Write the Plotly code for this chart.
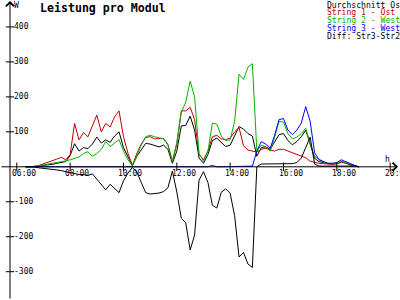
import plotly.graph_objects as go

# ---------------- data ----------------
times = ["06:20", "06:30", "06:40", "06:50", "07:00", "07:10", "07:20", "07:30", "07:40", "07:50",
         "08:00", "08:10", "08:20", "08:30", "08:40", "08:50", "09:00", "09:10", "09:20", "09:30",
         "09:40", "09:50", "10:00", "10:10", "10:20", "10:30", "10:40", "10:50", "11:00", "11:10",
         "11:20", "11:30", "11:40", "11:50", "12:00", "12:10", "12:20", "12:30", "12:40", "12:50",
         "13:00", "13:10", "13:20", "13:30", "13:40", "13:50", "14:00", "14:10", "14:20", "14:30",
         "14:40", "14:50", "15:00", "15:10", "15:20", "15:30", "15:40", "15:50", "16:00", "16:10",
         "16:20", "16:30", "16:40", "16:50", "17:00", "17:10", "17:20", "17:30", "17:40", "17:50",
         "18:00", "18:10", "18:20", "18:30", "18:40", "18:50"]

durchschnitt = [0, 0, 1, 2, 4, 5, 7, 10, 13, 15,
                32, 66, 45, 55, 52, 65, 85, 68, 77, 70,
                88, 100, 55, 28, 3, 30, 50, 67, 65, 60,
                57, 62, 50, 10, 45, 117, 118, 145, 105, 25,
                10, 35, 75, 82, 70, 58, 62, 90, 115, 108,
                95, 88, 30, 55, 57, 50, 70, 92, 95, 75,
                63, 72, 86, 105, 65, 24, 15, 11, 9, 8,
                9, 15, 11, 5, 2, 0]

string1 = [0, 0, 1, 4, 8, 12, 18, 22, 27, 20,
           35, 124, 77, 98, 86, 115, 148, 100, 124, 114,
           143, 160, 86, 39, 4, 38, 65, 84, 86, 80,
           80, 81, 64, 15, 65, 160, 160, 170, 135, 35,
           20, 45, 86, 90, 80, 78, 82, 100, 112, 60,
           48, 44, 42, 50, 53, 48, 45, 50, 50, 45,
           40, 36, 30, 26, 16, 12, 10, 9, 8, 7,
           9, 12, 11, 5, 2, 0]

string2 = [0, 0, 1, 3, 5, 7, 9, 11, 14, 17,
           20, 24, 28, 38, 43, 30, 38, 50, 72, 58,
           68, 78, 45, 20, 3, 35, 62, 86, 90, 86,
           82, 80, 62, 15, 70, 155, 185, 245, 200, 38,
           16, 45, 125, 122, 88, 75, 77, 130, 265, 250,
           285, 295, 45, 62, 57, 45, 85, 130, 128, 95,
           80, 85, 95, 110, 65, 30, 22, 14, 10, 9,
           10, 16, 12, 6, 2, 0]

string3 = [0, 0, 0, 0, 0, 0, 0, 0, 0, 0,
           0, 0, 0, 0, 0, 0, 0, 0, 0, 0,
           0, 0, 0, 0, 0, 0, 0, 0, 0, 0,
           0, 0, 0, 0, 0, 0, 0, 0, 0, 0,
           0, 0, 4, 0, 0, 0, 0, 0, 0, 0,
           0, 2, 45, 72, 65, 53, 90, 135, 138, 105,
           92, 105, 125, 172, 130, 40, 20, 14, 10, 10,
           12, 20, 14, 9, 4, 0]

diff32 = [0, 0, -1, -3, -4, -5, -7, -9, -11, -14,
          -17, -20, -22, -22, -25, -20, -35, -50, -66, -50,
          -62, -74, -40, -18, -2, -15, -45, -74, -78, -77,
          -75, -71, -60, -12, -72, -147, -160, -238, -195, -38,
          -14, -45, -110, -118, -73, -63, -76, -140, -258, -245,
          -278, -288, 0, 8, 8, 8, 7, 8, 8, 9,
          9, 12, 25, 55, 85, 8, 2, 2, 2, 2,
          2, 4, 2, 3, 2, 0]

legend_names = ["Durchschnitt Ost", "String 1 - Ost", "String 2 - West",
                "String 3 - West", "Diff: Str3-Str2"]
colors = ["#000000", "#c00000", "#00b400", "#0000ff", "#000000"]

y_ticks = [400, 300, 200, 100, -100, -200, -300]
y_tick_labels = ["400", "300", "200", "100", "-100", "-200", "-300"]
x_ticks = ["06:00", "08:00", "10:00", "12:00", "14:00", "16:00", "18:00", "20:00"]
x_tick_labels = ["06:00", "08:00", "10:00", "12:00", "14:00", "16:00", "18:00", "20:00"]

title = "Leistung pro Modul"
y_unit = "W"
x_unit = "h"

# ---------------- layout constants ----------------
W, H = 400, 300
PX_PER_H = 26.67
PX_PER_W = 0.3496
X0 = 6 - 16.8 / PX_PER_H
X1 = X0 + W / PX_PER_H
Y1 = 166.8 / PX_PER_W
Y0 = Y1 - H / PX_PER_W
AXIS_X = X0 + 10 / PX_PER_H
FONT = "DejaVu Sans Mono"


def hours(s):
    h, m = s.split(":")
    return int(h) + int(m) / 60.0


x = [hours(t) for t in times]
xt = [hours(t) for t in x_ticks]

fig = go.Figure()

series = [durchschnitt, string1, string2, string3, diff32]
for name, ys, col in zip(legend_names, series, colors):
    fig.add_trace(go.Scatter(x=x, y=ys, mode="lines", name=name,
                             line=dict(color=col, width=1), showlegend=False,
                             hoverinfo="skip"))

# tick marks
fig.add_trace(go.Scatter(x=[AXIS_X] * len(y_ticks), y=y_ticks, mode="markers",
                         marker=dict(symbol="line-ew", size=6, color="black",
                                     line=dict(width=1, color="black")),
                         showlegend=False, hoverinfo="skip"))
fig.add_trace(go.Scatter(x=xt, y=[0] * len(xt), mode="markers",
                         marker=dict(symbol="line-ns", size=6, color="black",
                                     line=dict(width=1, color="black")),
                         showlegend=False, hoverinfo="skip"))

ann = []
# y axis with arrow
ann.append(dict(x=AXIS_X, y=Y1 - 1 / PX_PER_W, xref="x", yref="y", text="", showarrow=True,
                ax=0, ay=H, axref="pixel", ayref="pixel", arrowhead=4, arrowsize=1.6,
                arrowwidth=1, arrowcolor="black", standoff=0))
# x axis with arrow
ann.append(dict(x=X0 + 398 / PX_PER_H, y=0, xref="x", yref="y", text="", showarrow=True,
                ax=-W, ay=0, axref="pixel", ayref="pixel", arrowhead=4, arrowsize=1.6,
                arrowwidth=1, arrowcolor="black", standoff=0))

for v, lab in zip(y_ticks, y_tick_labels):
    ann.append(dict(x=AXIS_X, y=v, xref="x", yref="y", text=lab, showarrow=False,
                    xanchor="left", yanchor="middle", xshift=2,
                    font=dict(family=FONT, size=8, color="black")))
for v, lab in zip(xt, x_tick_labels):
    ann.append(dict(x=v, y=0, xref="x", yref="y", text=lab, showarrow=False,
                    xanchor="left", yanchor="middle", xshift=-7, yshift=-7,
                    font=dict(family=FONT, size=8, color="black")))

ann.append(dict(x=38 / W, y=1 + 1 / H, xref="paper", yref="paper", text="<b>" + title + "</b>",
                showarrow=False, xanchor="left", yanchor="top",
                font=dict(family=FONT, size=11.6, color="black")))
ann.append(dict(x=12 / W, y=1 + 1 / H, xref="paper", yref="paper", text=y_unit,
                showarrow=False, xanchor="left", yanchor="top",
                font=dict(family=FONT, size=8, color="black")))
ann.append(dict(x=383 / W, y=1 - 153 / H, xref="paper", yref="paper", text=x_unit,
                showarrow=False, xanchor="left", yanchor="top",
                font=dict(family=FONT, size=8, color="black")))

for i, (name, col) in enumerate(zip(legend_names, colors)):
    ann.append(dict(x=324.5 / W, y=1 - (4.5 + 7.8 * i) / H, xref="paper", yref="paper",
                    text=name, showarrow=False, xanchor="left", yanchor="middle",
                    font=dict(family=FONT, size=8.1, color=col)))

fig.update_layout(
    width=W, height=H,
    margin=dict(l=0, r=0, t=0, b=0, pad=0),
    paper_bgcolor="white", plot_bgcolor="white",
    xaxis=dict(range=[X0, X1], visible=False, fixedrange=True),
    yaxis=dict(range=[Y0, Y1], visible=False, fixedrange=True),
    annotations=ann,
    showlegend=False,
)

fig.write_html("out.html", config={"displayModeBar": False})
